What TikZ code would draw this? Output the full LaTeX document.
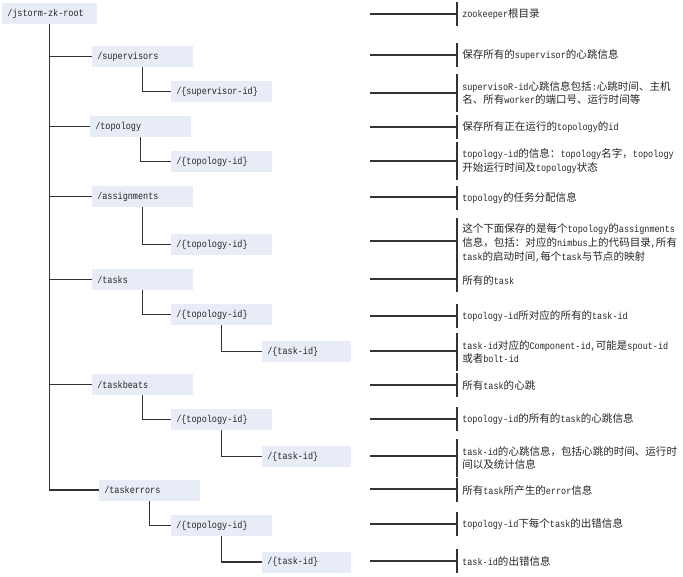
\documentclass[tikz,border=0pt]{standalone}
\usepackage{fontspec}
\setmainfont{Liberation Mono}[FakeStretch=0.85]
\newfontfamily\cjkfont{Noto Sans CJK SC}
\newcommand{\zh}[1]{{\cjkfont\fontsize{7.9}{10}\selectfont #1}}
\definecolor{boxblue}{RGB}{231,236,247}
\tikzset{
  zkbox/.style={fill=boxblue, anchor=west, inner xsep=3.75pt, inner ysep=0pt,
    minimum height=15.75pt, text width=68.25pt, align=left},
  zknote/.style={anchor=west, align=left, inner xsep=3.75pt, inner ysep=0pt,
    minimum height=17.25pt},
  tworows/.style={minimum height=27.75pt},
  threerows/.style={minimum height=37.5pt},
  link/.style={draw=black!80, line width=1pt}
}

\begin{document}
\begin{tikzpicture}[x=0.75pt, y=-0.75pt, font=\fontsize{7.5}{10.2}\selectfont, text=black!85]
  \useasboundingbox (0,0) rectangle (683,576);
  % znodes tree
  \node[zkbox, text width=63.75pt] (root) at (2,13.5) {/jstorm-zk-root};
  \node[zkbox] (sup) at (92,56.5) {/supervisors};
  \node[zkbox] (supid) at (171,91.5) {/\{supervisor-id\}};
  \node[zkbox] (topo) at (90,126.5) {/topology};
  \node[zkbox] (topoid) at (171,161.5) {/\{topology-id\}};
  \node[zkbox] (asg) at (92,196.5) {/assignments};
  \node[zkbox] (asgid) at (171,244.5) {/\{topology-id\}};
  \node[zkbox] (tasks) at (92,279.5) {/tasks};
  \node[zkbox] (taskstopo) at (171,314.5) {/\{topology-id\}};
  \node[zkbox, text width=59.25pt] (taskstid) at (262,351.5) {/\{task-id\}};
  \node[zkbox] (beats) at (92,384.5) {/taskbeats};
  \node[zkbox] (beatstopo) at (171,419.5) {/\{topology-id\}};
  \node[zkbox, text width=59.25pt] (beatstid) at (262,456.5) {/\{task-id\}};
  \node[zkbox] (errs) at (99,490) {/taskerrors};
  \node[zkbox] (errstopo) at (171,525.5) {/\{topology-id\}};
  \node[zkbox, text width=59.25pt] (errstid) at (262,562) {/\{task-id\}};

  \draw[link] (root.south) |- (sup.west);
  \draw[link] (root.south) |- (topo.west);
  \draw[link] (root.south) |- (asg.west);
  \draw[link] (root.south) |- (tasks.west);
  \draw[link] (root.south) |- (beats.west);
  \draw[link] (root.south) |- (errs.west);
  \draw[link] (sup.south) |- (supid.west);
  \draw[link] (topo.south) |- (topoid.west);
  \draw[link] (asg.south) |- (asgid.west);
  \draw[link] (tasks.south) |- (taskstopo.west);
  \draw[link] (taskstopo.south) |- (taskstid.west);
  \draw[link] (beats.south) |- (beatstopo.west);
  \draw[link] (beatstopo.south) |- (beatstid.west);
  \draw[link] (errs.south) |- (errstopo.west);
  \draw[link] (errstopo.south) |- (errstid.west);

  % notes on the right
  \node[zknote] (n1) at (457,14) {zookeeper\zh{根目录}};
  \node[zknote] (n2) at (457,55) {\zh{保存所有的}supervisor\zh{的心跳信息}};
  \node[zknote, tworows] (n3) at (457,93) {supervisoR-id\zh{心跳信息包括}:\zh{心跳时间、主机}\\\zh{名、所有}worker\zh{的端口号、运行时间等}};
  \node[zknote] (n4) at (457,127) {\zh{保存所有正在运行的}topology\zh{的}id};
  \node[zknote, tworows] (n5) at (457,161) {topology-id\zh{的信息：}topology\zh{名字，}topology\\\zh{开始运行时间及}topology\zh{状态}};
  \node[zknote] (n6) at (457,198) {topology\zh{的任务分配信息}};
  \node[zknote, threerows] (n7) at (457,243) {\zh{这个下面保存的是每个}topology\zh{的}assignments\\\zh{信息，包括：对应的}nimbus\zh{上的代码目录},\zh{所有}\\task\zh{的启动时间},\zh{每个}task\zh{与节点的映射}};
  \node[zknote] (n8) at (457,280) {\zh{所有的}task};
  \node[zknote] (n9) at (457,316) {topology-id\zh{所对应的所有的}task-id};
  \node[zknote, tworows] (n10) at (457,352) {task-id\zh{对应的}Component-id,\zh{可能是}spout-id\\\zh{或者}bolt-id};
  \node[zknote] (n11) at (457,385) {\zh{所有}task\zh{的心跳}};
  \node[zknote] (n12) at (457,419) {topology-id\zh{的所有的}task\zh{的心跳信息}};
  \node[zknote, tworows] (n13) at (457,458) {task-id\zh{的心跳信息，包括心跳的时间、运行时}\\\zh{间以及统计信息}};
  \node[zknote] (n14) at (457,490) {\zh{所有}task\zh{所产生的}error\zh{信息}};
  \node[zknote] (n15) at (457,524) {topology-id\zh{下每个}task\zh{的出错信息}};
  \node[zknote] (n16) at (457,561) {task-id\zh{的出错信息}};

  \coordinate (a1) at (370,14);
  \coordinate (a2) at (370,55);
  \coordinate (a3) at (370,93);
  \coordinate (a4) at (370,127);
  \coordinate (a5) at (370,161);
  \coordinate (a6) at (370,197);
  \coordinate (a7) at (370,241);
  \coordinate (a8) at (370,279);
  \coordinate (a9) at (370,316);
  \coordinate (a10) at (370,351);
  \coordinate (a11) at (370,385);
  \coordinate (a12) at (370,419);
  \coordinate (a13) at (370,456);
  \coordinate (a14) at (370,489);
  \coordinate (a15) at (370,524);
  \coordinate (a16) at (370,561);
  \draw[link] (a1) -- (a1 -| n1.west) (n1.north west) -- (n1.south west);
  \draw[link] (a2) -- (a2 -| n2.west) (n2.north west) -- (n2.south west);
  \draw[link] (a3) -- (a3 -| n3.west) (n3.north west) -- (n3.south west);
  \draw[link] (a4) -- (a4 -| n4.west) (n4.north west) -- (n4.south west);
  \draw[link] (a5) -- (a5 -| n5.west) (n5.north west) -- (n5.south west);
  \draw[link] (a6) -- (a6 -| n6.west) (n6.north west) -- (n6.south west);
  \draw[link] (a7) -- (a7 -| n7.west) (n7.north west) -- (n7.south west);
  \draw[link] (a8) -- (a8 -| n8.west) (n8.north west) -- (n8.south west);
  \draw[link] (a9) -- (a9 -| n9.west) (n9.north west) -- (n9.south west);
  \draw[link] (a10) -- (a10 -| n10.west) (n10.north west) -- (n10.south west);
  \draw[link] (a11) -- (a11 -| n11.west) (n11.north west) -- (n11.south west);
  \draw[link] (a12) -- (a12 -| n12.west) (n12.north west) -- (n12.south west);
  \draw[link] (a13) -- (a13 -| n13.west) (n13.north west) -- (n13.south west);
  \draw[link] (a14) -- (a14 -| n14.west) (n14.north west) -- (n14.south west);
  \draw[link] (a15) -- (a15 -| n15.west) (n15.north west) -- (n15.south west);
  \draw[link] (a16) -- (a16 -| n16.west) (n16.north west) -- (n16.south west);
\end{tikzpicture}
\end{document}
